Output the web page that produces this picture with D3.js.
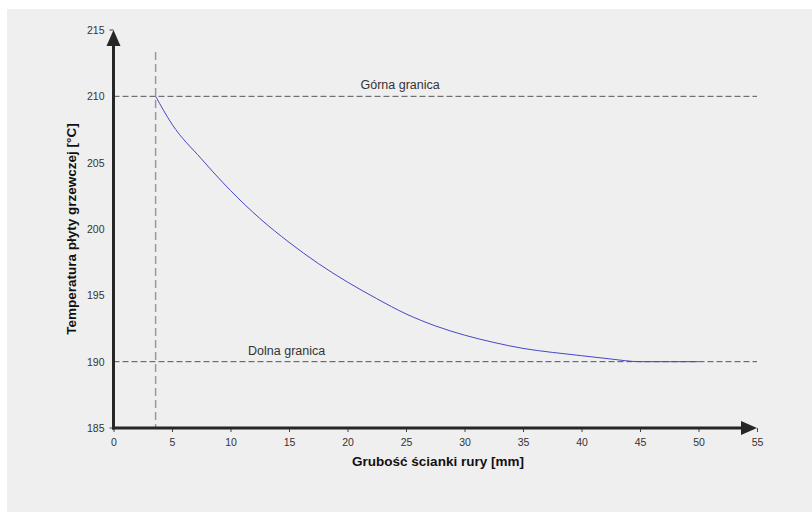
<!DOCTYPE html>
<html><head><meta charset="utf-8">
<script src="https://cdn.jsdelivr.net/npm/d3@7"></script>
<style>body{margin:0;background:#fff}</style>
</head><body>
<svg id="c" width="812" height="512"></svg>
<script>
const xValues = [3.6, 5, 7.5, 10, 12.5, 15, 17.5, 20, 22.5, 25, 27.5, 30, 32.5, 35, 37.5, 40, 42.5, 45, 47.5, 50];
const tempValues = [210, 207.9, 205.3, 202.9, 200.8, 199.0, 197.4, 196.0, 194.75, 193.6, 192.7, 192.0, 191.45, 191.0, 190.7, 190.45, 190.2, 190.0, 190.0, 190.0];
const xTicks = [0,5,10,15,20,25,30,35,40,45,50,55];
const yTicks = [185,190,195,200,205,210,215];
const upperLimit = 210, lowerLimit = 190, minThickness = 3.6;
const labels = {upper:"Górna granica", lower:"Dolna granica", x:"Grubość ścianki rury [mm]", y:"Temperatura płyty grzewczej [°C]"};

const svg = d3.select("#c");
svg.append("rect").attr("x",7).attr("y",9).attr("width",805).attr("height",503).attr("fill","#efefef");

const x = d3.scaleLinear().domain([0,55]).range([113.5,757]);
const y = d3.scaleLinear().domain([185,215]).range([428,30]);
const font = "'Liberation Sans', Arial, sans-serif";

// x axis ticks & labels
const xa = svg.append("g").attr("transform",`translate(0,${y(185)})`)
  .call(d3.axisBottom(x).tickValues(xTicks).tickSize(4).tickPadding(7).tickFormat(d3.format("d")));
xa.select(".domain").remove();
xa.selectAll("line").attr("stroke","#444");
xa.selectAll("text").attr("font-family",font).attr("font-size",10.5).attr("fill","#333");

const ya = svg.append("g").attr("transform",`translate(${x(0)},0)`)
  .call(d3.axisLeft(y).tickValues(yTicks).tickSize(0).tickPadding(9).tickFormat(d3.format("d")));
ya.select(".domain").remove();
ya.selectAll("text").attr("font-family",font).attr("font-size",10.5).attr("fill","#333");
[185,215].forEach(v=>svg.append("line").attr("x1",x(0)-4).attr("x2",x(0)).attr("y1",y(v)).attr("y2",y(v)).attr("stroke","#444"));

// limit lines
[upperLimit, lowerLimit].forEach(v=>{
  svg.append("line").attr("x1",x(0)).attr("x2",x(55)).attr("y1",y(v)).attr("y2",y(v))
    .attr("stroke","#555").attr("stroke-width",1).attr("stroke-dasharray","6,3");
});
svg.append("line").attr("x1",x(minThickness)).attr("x2",x(minThickness)).attr("y1",52).attr("y2",y(185))
  .attr("stroke","#999").attr("stroke-width",1.5).attr("stroke-dasharray","8,4");

svg.append("text").attr("x",x(24.5)).attr("y",y(upperLimit)-7).attr("text-anchor","middle")
  .attr("font-family",font).attr("font-size",12.5).attr("fill","#333").text(labels.upper);
svg.append("text").attr("x",x(14.8)).attr("y",y(lowerLimit)-7).attr("text-anchor","middle")
  .attr("font-family",font).attr("font-size",12.5).attr("fill","#333").text(labels.lower);

// curve
const pts = xValues.map((v,i)=>[v,tempValues[i]]);
svg.append("path").datum(pts)
  .attr("d",d3.line().x(d=>x(d[0])).y(d=>y(d[1])).curve(d3.curveMonotoneX))
  .attr("fill","none").attr("stroke","#4646c8").attr("stroke-width",1);

// axes with arrows
const ax = "#262626";
svg.append("line").attr("x1",x(0)).attr("x2",x(0)).attr("y1",y(185)+1.5).attr("y2",44).attr("stroke",ax).attr("stroke-width",3);
svg.append("line").attr("x1",x(0)-1.5).attr("x2",743).attr("y1",y(185)).attr("y2",y(185)).attr("stroke",ax).attr("stroke-width",3);
svg.append("path").attr("d",`M${x(0)},${y(215)} L${x(0)-7},${y(215)+16} L${x(0)+7},${y(215)+16}Z`).attr("fill",ax);
svg.append("path").attr("d",`M${x(55)},${y(185)} L${x(55)-16},${y(185)-7} L${x(55)-16},${y(185)+7}Z`).attr("fill",ax);

// titles
svg.append("text").attr("x",438).attr("y",466).attr("text-anchor","middle")
  .attr("font-family",font).attr("font-size",13.5).attr("font-weight","bold").attr("fill","#111").text(labels.x);
svg.append("text").attr("transform","translate(76,229) rotate(-90)").attr("text-anchor","middle")
  .attr("font-family",font).attr("font-size",13.5).attr("font-weight","bold").attr("fill","#111").text(labels.y);
</script>
</body></html>
